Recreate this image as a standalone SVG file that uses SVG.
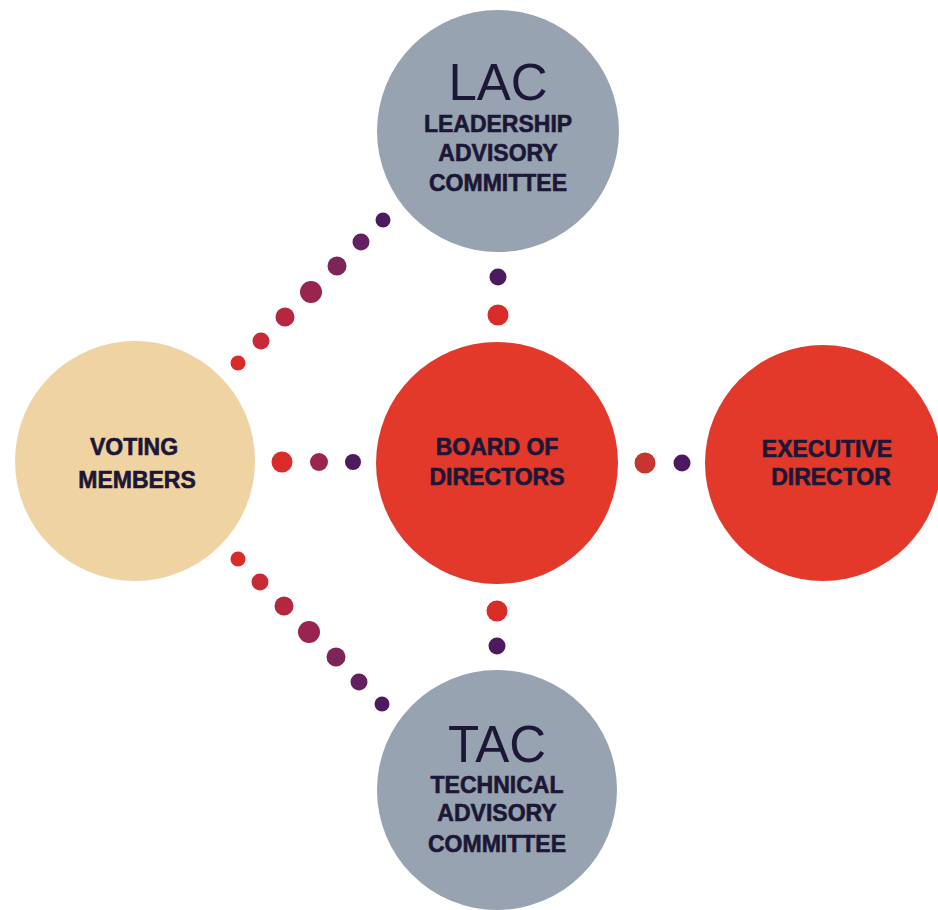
<svg xmlns="http://www.w3.org/2000/svg" width="938" height="910" viewBox="0 0 938 910">
<style>
.big{font-family:"Liberation Sans",Arial,sans-serif;font-size:51px;font-weight:400;fill:#1c1736;text-anchor:middle}
.lbl{font-family:"Liberation Sans",Arial,sans-serif;font-size:23px;font-weight:700;fill:#1c1736;stroke:#1c1736;stroke-width:0.6;text-anchor:middle}
.gray{fill:#97a3b0}
.red{fill:#e3392b}
.tan{fill:#f0d3a3}
.d1{fill:#d92b27}
.d2{fill:#c72a34}
.d3{fill:#b5263f}
.d4{fill:#9a2450}
.d5{fill:#7e2558}
.d6{fill:#652060}
.d7{fill:#4d1a5f}
</style>
<rect width="938" height="910" fill="#ffffff"/>
<g id="connectors">
<circle class="d7" cx="383" cy="220" r="7.5"/>
<circle class="d6" cx="361" cy="242" r="8.5"/>
<circle class="d5" cx="337" cy="266" r="9.5"/>
<circle class="d4" cx="311" cy="292" r="11"/>
<circle class="d3" cx="285" cy="317" r="9.5"/>
<circle class="d2" cx="261" cy="341" r="8.5"/>
<circle class="d1" cx="238" cy="363" r="7.5"/>
<circle class="d1" cx="238" cy="559" r="7.5"/>
<circle class="d2" cx="260" cy="582" r="8.5"/>
<circle class="d3" cx="284" cy="606" r="9.5"/>
<circle class="d4" cx="309" cy="632" r="11"/>
<circle class="d5" cx="336" cy="657" r="9.5"/>
<circle class="d6" cx="359" cy="682" r="8.5"/>
<circle class="d7" cx="382" cy="704" r="7.5"/>
<circle class="d1" cx="282" cy="462" r="10.5"/>
<circle class="d4" cx="319" cy="462" r="9"/>
<circle class="d7" cx="353" cy="462" r="8"/>
<circle class="d7" cx="498" cy="277" r="8.5"/>
<circle class="d1" cx="498" cy="315" r="10.5"/>
<circle class="d1" cx="497" cy="611" r="10.5"/>
<circle class="d7" cx="497" cy="646" r="8.5"/>
<circle fill="#c8352e" cx="645" cy="463" r="10.5"/>
<circle class="d7" cx="682" cy="463" r="8.5"/>
</g>
<g id="lac">
<circle class="gray" cx="498" cy="131" r="121"/>
<text class="big" x="498" y="100">LAC</text>
<text class="lbl" x="498" y="132">LEADERSHIP</text>
<text class="lbl" x="498" y="161">ADVISORY</text>
<text class="lbl" x="498" y="191">COMMITTEE</text>
</g>
<g id="board">
<circle class="red" cx="497" cy="463" r="121"/>
<text class="lbl" x="497" y="455">BOARD OF</text>
<text class="lbl" x="497" y="485">DIRECTORS</text>
</g>
<g id="voting">
<circle class="tan" cx="135" cy="461" r="120"/>
<text class="lbl" x="134" y="455">VOTING</text>
<text class="lbl" x="137" y="488">MEMBERS</text>
</g>
<g id="executive">
<circle class="red" cx="823" cy="463" r="118"/>
<text class="lbl" x="827" y="457">EXECUTIVE</text>
<text class="lbl" x="831" y="485">DIRECTOR</text>
</g>
<g id="tac">
<circle class="gray" cx="497" cy="790" r="120"/>
<text class="big" x="497" y="762">TAC</text>
<text class="lbl" x="497" y="793">TECHNICAL</text>
<text class="lbl" x="497" y="821">ADVISORY</text>
<text class="lbl" x="497" y="852">COMMITTEE</text>
</g>
</svg>
